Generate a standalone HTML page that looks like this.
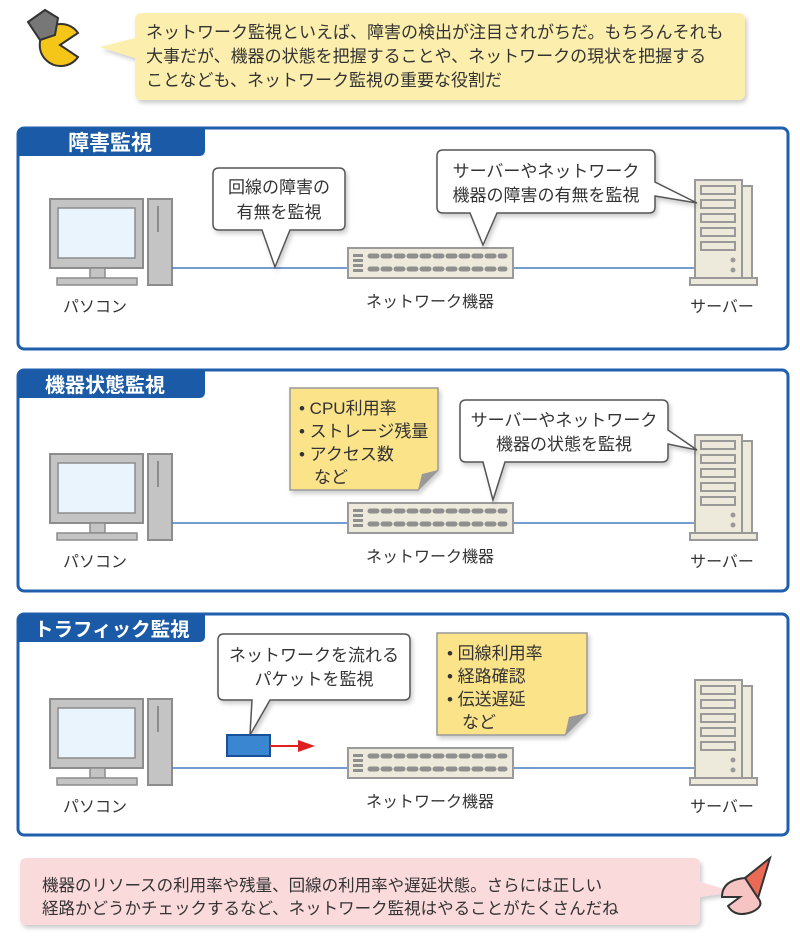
<!DOCTYPE html>
<html><head><meta charset="utf-8"><style>
html,body{margin:0;padding:0;background:#fff;}
svg{display:block;}
text{font-family:"Liberation Sans","Noto Sans CJK JP",sans-serif;fill:#333;}
</style></head><body>
<svg width="800" height="949" viewBox="0 0 800 949" xmlns="http://www.w3.org/2000/svg">
<defs>
<filter id="sh" x="-5%" y="-5%" width="115%" height="125%"><feDropShadow dx="2" dy="3" stdDeviation="2" flood-color="#000" flood-opacity="0.2"/></filter>
<g id="pc">
  <rect x="50" y="699" width="93" height="69" fill="#c4c4c4" stroke="#8c8c8c" stroke-width="2"/>
  <rect x="58" y="708" width="77" height="50" fill="#e9f4fc" stroke="#8c8c8c" stroke-width="1.5"/>
  <rect x="90" y="768" width="15" height="10" fill="#c4c4c4" stroke="#8c8c8c" stroke-width="1.5"/>
  <rect x="57" y="778" width="80" height="7" fill="#c4c4c4" stroke="#8c8c8c" stroke-width="1.5"/>
  <rect x="148" y="699" width="24" height="86" fill="#c4c4c4" stroke="#8c8c8c" stroke-width="2"/>
  <line x1="158" y1="706" x2="158" y2="732" stroke="#8c8c8c" stroke-width="2"/>
  <line x1="172" y1="768" x2="695" y2="768" stroke="#4a7bbf" stroke-width="1.5"/>
</g>
<g id="sw">
  <rect x="348" y="748" width="165" height="30" fill="#eeeadb" stroke="#9a9a9a" stroke-width="2"/>
  <g fill="#8f8f8f">
    <rect x="353" y="754" width="10" height="3"/><rect x="353" y="759" width="10" height="3"/><rect x="353" y="764" width="10" height="3"/><rect x="353" y="769" width="10" height="3"/>
  </g>
  <g stroke="#8f8f8f" stroke-width="5" stroke-dasharray="7 6" stroke-linecap="round">
    <line x1="370" y1="756" x2="505" y2="756"/>
    <line x1="370" y1="769" x2="505" y2="769"/>
  </g>
</g>
<g id="srv">
  <rect x="742" y="686" width="10" height="92" fill="#eeeadb" stroke="#999" stroke-width="2"/>
  <rect x="695" y="680" width="47" height="98" fill="#eeeadb" stroke="#999" stroke-width="2"/>
  <g fill="#eeeadb" stroke="#999" stroke-width="2">
    <rect x="701" y="686" width="34" height="8"/><rect x="701" y="700" width="34" height="8"/><rect x="701" y="714" width="34" height="8"/><rect x="701" y="728" width="34" height="8"/><rect x="701" y="742" width="34" height="8"/>
  </g>
  <circle cx="733" cy="760" r="2.5" fill="#999"/><circle cx="733" cy="770" r="2.5" fill="#999"/>
  <rect x="690" y="778" width="67" height="7" fill="#eeeadb" stroke="#999" stroke-width="2"/>
</g>
<g id="lbl">
  <text x="95" y="812" font-size="16" text-anchor="middle">パソコン</text>
  <text x="430" y="807" font-size="16" text-anchor="middle">ネットワーク機器</text>
  <text x="722" y="812" font-size="16" text-anchor="middle">サーバー</text>
</g>
</defs>

<path d="M60 45 L78 33 A21 21 0 1 0 78 57 Z" fill="#f5c518" stroke="#333" stroke-width="2"/>
<path d="M28 22 L45 10 L58 18 L55 35 L40 40 Z" fill="#777" stroke="#333" stroke-width="2"/>
<g filter="url(#sh)">
<path d="M142 13 H738 Q745 13 745 20 V93 Q745 100 738 100 H142 Q135 100 135 93 V58 L100 47 L135 38 V20 Q135 13 142 13 Z" fill="#fcefad"/>
</g>
<text font-size="17"><tspan x="146" y="38">ネットワーク監視といえば、障害の検出が注目されがちだ。もちろんそれも</tspan><tspan x="146" y="62">大事だが、機器の状態を把握することや、ネットワークの現状を把握する</tspan><tspan x="146" y="86">ことなども、ネットワーク監視の重要な役割だ</tspan></text>

<g transform="translate(0,-486)">
  <rect x="18" y="614" width="770" height="221" rx="6" fill="#fff" stroke="#1f5fae" stroke-width="3"/>
  <path d="M24 614 H205 V636 Q205 642 199 642 H18 V620 Q18 614 24 614 Z" fill="#1a5aa6"/>
  <text x="68" y="636" font-size="21" font-weight="bold" style="fill:#fff">障害監視</text>
</g>
<g transform="translate(0,-244)">
  <rect x="18" y="614" width="770" height="221" rx="6" fill="#fff" stroke="#1f5fae" stroke-width="3"/>
  <path d="M24 614 H205 V636 Q205 642 199 642 H18 V620 Q18 614 24 614 Z" fill="#1a5aa6"/>
  <text x="45" y="636" font-size="20" font-weight="bold" style="fill:#fff">機器状態監視</text>
</g>
<g>
  <rect x="18" y="614" width="770" height="221" rx="6" fill="#fff" stroke="#1f5fae" stroke-width="3"/>
  <path d="M24 614 H205 V636 Q205 642 199 642 H18 V620 Q18 614 24 614 Z" fill="#1a5aa6"/>
  <text x="34" y="636" font-size="19.5" font-weight="bold" style="fill:#fff">トラフィック監視</text>
</g>

<g transform="translate(0,-500)"><use href="#pc"/><use href="#sw"/><use href="#srv"/><use href="#lbl"/></g>
<g filter="url(#sh)" fill="#fff" stroke="#555" stroke-width="1.5">
  <path d="M219 168 H339 Q345 168 345 174 V224 Q345 230 339 230 H290 L275 267 L262 230 H219 Q213 230 213 224 V174 Q213 168 219 168 Z"/>
  <path d="M443 150 H649 Q655 150 655 156 V182 L697 203 L655 196 V207 Q655 213 649 213 H497 L483 245 L470 213 H443 Q437 213 437 207 V156 Q437 150 443 150 Z"/>
</g>
<text font-size="17" text-anchor="middle"><tspan x="279" y="193">回線の障害の</tspan><tspan x="279" y="218">有無を監視</tspan></text>
<text font-size="17" text-anchor="middle"><tspan x="546" y="177">サーバーやネットワーク</tspan><tspan x="546" y="201">機器の障害の有無を監視</tspan></text>

<g transform="translate(0,-245)"><use href="#pc"/><use href="#sw"/><use href="#srv"/><use href="#lbl"/></g>
<g filter="url(#sh)">
  <path d="M290 388 H438 V470 L418 490 H290 Z" fill="#fbe38a" stroke="#999" stroke-width="1.5"/>
  <path d="M438 470 L418 490 L422 474 Z" fill="#999"/>
  <path d="M466 400 H662 Q668 400 668 406 V430 L697 450 L668 444 V456 Q668 462 662 462 H505 L493 500 L483 462 H466 Q460 462 460 456 V406 Q460 400 466 400 Z" fill="#fff" stroke="#555" stroke-width="1.5"/>
</g>
<text font-size="17"><tspan x="299" y="414">• CPU利用率</tspan><tspan x="299" y="437">• ストレージ残量</tspan><tspan x="299" y="460">• アクセス数</tspan><tspan x="314" y="483">など</tspan></text>
<text font-size="17" text-anchor="middle"><tspan x="564" y="426">サーバーやネットワーク</tspan><tspan x="564" y="450">機器の状態を監視</tspan></text>

<use href="#pc"/><use href="#sw"/><use href="#srv"/><use href="#lbl"/>
<g filter="url(#sh)">
  <path d="M224 634 H404 Q410 634 410 640 V694 Q410 700 404 700 H270 L250 735 L252 700 H224 Q218 700 218 694 V640 Q218 634 224 634 Z" fill="#fff" stroke="#555" stroke-width="1.5"/>
  <path d="M437 633 H587 V713 L565 735 H437 Z" fill="#fbe38a" stroke="#999" stroke-width="1.5"/>
  <path d="M587 713 L565 735 L569 717 Z" fill="#999"/>
</g>
<text font-size="17" text-anchor="middle"><tspan x="314" y="661">ネットワークを流れる</tspan><tspan x="314" y="685">パケットを監視</tspan></text>
<text font-size="17"><tspan x="447" y="659">• 回線利用率</tspan><tspan x="447" y="682">• 経路確認</tspan><tspan x="447" y="705">• 伝送遅延</tspan><tspan x="462" y="728">など</tspan></text>
<rect x="227" y="735" width="43" height="21" fill="#3a86d0" stroke="#1a4f9a" stroke-width="2"/>
<line x1="270" y1="746" x2="300" y2="746" stroke="#e02020" stroke-width="2"/>
<path d="M298 740 L315 746 L298 752 Z" fill="#e02020"/>

<g filter="url(#sh)">
<path d="M27 858 H693 Q700 858 700 865 V882 L735 892 L700 897 V918 Q700 925 693 925 H27 Q20 925 20 918 V865 Q20 858 27 858 Z" fill="#fadadb"/>
</g>
<text font-size="16.5"><tspan x="42" y="891">機器のリソースの利用率や残量、回線の利用率や遅延状態。さらには正しい</tspan><tspan x="42" y="914">経路かどうかチェックするなど、ネットワーク監視はやることがたくさんだね</tspan></text>
<path d="M770 858 L745 878 L758 898 Z" fill="#ea6a55" stroke="#333" stroke-width="2"/>
<path d="M745 878 Q722 880 722 897 L740 897 L728 906 Q735 918 752 912 Q765 906 758 898 Z" fill="#f7c4c4" stroke="#333" stroke-width="2"/>
</svg>
</body></html>
